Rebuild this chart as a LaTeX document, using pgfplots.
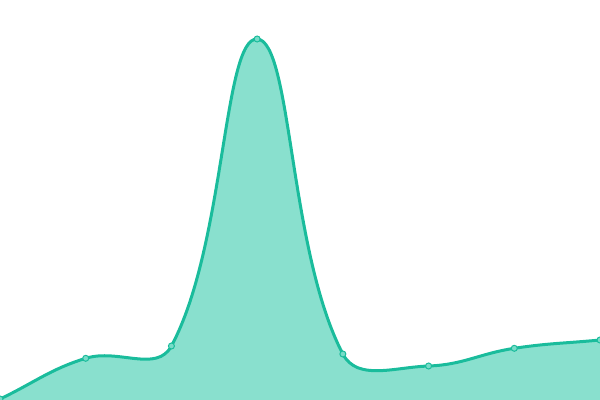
\documentclass[border=0pt]{standalone}
\usepackage{pgfplots}
\pgfplotsset{compat=1.18}
\definecolor{linec}{RGB}{26,188,156}
\definecolor{fillc}{RGB}{137,224,206}
\definecolor{markc}{RGB}{120,220,200}

% spline handler: control points weighted by the distances to the neighbours
\makeatletter
\newdimen\cjAx \newdimen\cjAy
\newdimen\cjBx \newdimen\cjBy
\newdimen\cjCx \newdimen\cjCy
\newdimen\cjDx \newdimen\cjDy
\def\cjtension{0.4}
\def\pgfplothandlerweighted{%
  \def\pgf@plotstreamstart{%
    \global\let\pgf@plotstreampoint=\cj@first
    \global\let\pgf@plotstreamspecial=\pgfutil@gobble
    \global\let\pgf@plotstreamend=\cj@finish
  }%
}
\def\cj@first#1{%
  \pgf@process{#1}%
  \global\cjAx=\pgf@x \global\cjAy=\pgf@y
  \pgf@plot@first@action{\pgfqpoint{\cjAx}{\cjAy}}%
  \global\let\pgf@plotstreampoint=\cj@second
  \global\let\pgf@plotstreamend=\relax
}
\def\cj@second#1{%
  \pgf@process{#1}%
  \global\cjBx=\pgf@x \global\cjBy=\pgf@y
  \pgfmathparse{\cjAx+\cjtension*(\cjBx-\cjAx)}\global\cjCx=\pgfmathresult pt
  \pgfmathparse{\cjAy+\cjtension*(\cjBy-\cjAy)}\global\cjCy=\pgfmathresult pt
  \global\let\pgf@plotstreampoint=\cj@next
  \global\let\pgf@plotstreamend=\cj@finish
}
\def\cj@next#1{%
  \pgf@process{#1}%
  \global\cjDx=\pgf@x \global\cjDy=\pgf@y
  \pgfmathsetmacro\cjdA{veclen(\cjBx-\cjAx,\cjBy-\cjAy)}%
  \pgfmathsetmacro\cjdB{veclen(\cjDx-\cjBx,\cjDy-\cjBy)}%
  \pgfmathsetmacro\cjfa{\cjtension*\cjdA/(\cjdA+\cjdB)}%
  \pgfmathsetmacro\cjfb{\cjtension*\cjdB/(\cjdA+\cjdB)}%
  \pgfmathsetmacro\cjix{\cjBx-\cjfa*(\cjDx-\cjAx)}%
  \pgfmathsetmacro\cjiy{\cjBy-\cjfa*(\cjDy-\cjAy)}%
  \pgfpathcurveto{\pgfqpoint{\cjCx}{\cjCy}}{\pgfqpoint{\cjix pt}{\cjiy pt}}{\pgfqpoint{\cjBx}{\cjBy}}%
  \pgfmathparse{\cjBx+\cjfb*(\cjDx-\cjAx)}\global\cjCx=\pgfmathresult pt
  \pgfmathparse{\cjBy+\cjfb*(\cjDy-\cjAy)}\global\cjCy=\pgfmathresult pt
  \global\cjAx=\cjBx \global\cjAy=\cjBy
  \global\cjBx=\cjDx \global\cjBy=\cjDy
}
\def\cj@finish{%
  \pgfmathsetmacro\cjix{\cjBx-\cjtension*(\cjBx-\cjAx)}%
  \pgfmathsetmacro\cjiy{\cjBy-\cjtension*(\cjBy-\cjAy)}%
  \pgfpathcurveto{\pgfqpoint{\cjCx}{\cjCy}}{\pgfqpoint{\cjix pt}{\cjiy pt}}{\pgfqpoint{\cjBx}{\cjBy}}%
}
\tikzset{weighted smooth/.code={\let\tikz@plot@handler=\pgfplothandlerweighted}}
\makeatother

\begin{document}
\begin{tikzpicture}
\begin{axis}[
    width=600bp, height=400bp,
    scale only axis,
    hide axis,
    xmin=0, xmax=7,
    ymin=0, ymax=400,
    clip=false,
]
% values
\addplot[weighted smooth, draw=none, fill=fillc] coordinates {
    (0,1) (1,41.7) (2,54) (3,361) (4,46) (5,34) (6,51.7) (7,60)
} \closedcycle;
\addplot[weighted smooth, color=linec, line width=3bp,
    mark=*, mark size=3bp,
    mark options={fill=markc, draw=linec, line width=1bp}] coordinates {
    (0,1) (1,41.7) (2,54) (3,361) (4,46) (5,34) (6,51.7) (7,60)
};
\coordinate (sw) at (rel axis cs:0,0);
\coordinate (ne) at (rel axis cs:1,1);
\end{axis}
\pgfresetboundingbox
\path (sw) rectangle (ne);
\end{tikzpicture}
\end{document}
